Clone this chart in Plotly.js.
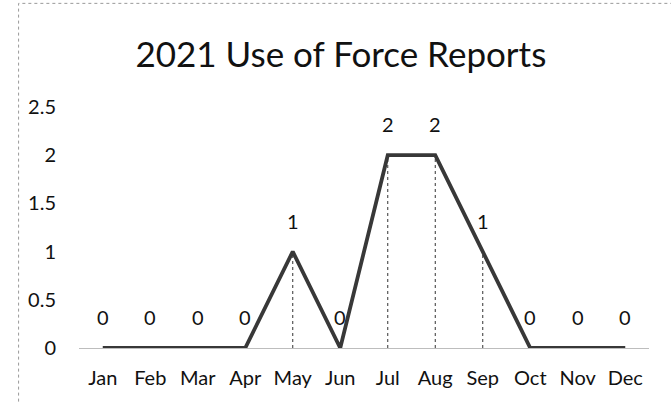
<!DOCTYPE html>
<html>
<head>
<meta charset="utf-8">
<script src="https://cdn.plot.ly/plotly-3.0.1.min.js"></script>
<style>html,body{margin:0;padding:0;background:#fff;}#chart{width:671px;height:404px;}</style>
</head>
<body>
<div id="chart"></div>
<script>
const months = ["Jan","Feb","Mar","Apr","May","Jun","Jul","Aug","Sep","Oct","Nov","Dec"];
const reports = [0,0,0,0,1,0,2,2,1,0,0,0];
const yTicks = [0,0.5,1,1.5,2,2.5];
const yTickText = ["0","0.5","1","1.5","2","2.5"];

const FONT = "Lato, 'Open Sans', sans-serif";

// drop lines from each non-zero point to the axis
const dropX = [], dropY = [];
months.forEach((m, i) => {
  if (reports[i] > 0) { dropX.push(m, m, null); dropY.push(0, reports[i], null); }
});

const traces = [
  {x: months, y: reports, type: 'scatter', mode: 'lines',
   line: {color: '#383838', width: 3.8}, showlegend: false},
  {x: dropX, y: dropY, type: 'scatter', mode: 'lines',
   line: {color: '#333', width: 1, dash: 'dot'}, hoverinfo: 'skip', showlegend: false}
];

const annotations = months.map((m, i) => ({
  x: m, y: reports[i], xref: 'x', yref: 'y', text: String(reports[i]),
  showarrow: false, yshift: 31, font: {family: FONT, size: 20, color: '#111'}
}));

const layout = {
  width: 671, height: 404,
  margin: {l: 79, r: 22, t: 107, b: 56},
  paper_bgcolor: '#fff', plot_bgcolor: '#fff',
  title: {text: '2021 Use of Force Reports', x: 0.508, xanchor: 'center', y: 0.864, yanchor: 'middle',
          font: {family: FONT, size: 35, color: '#111'}},
  xaxis: {type: 'category', categoryorder: 'array', categoryarray: months,
          range: [-0.5, 11.5], showgrid: false, zeroline: false,
          showline: true, linecolor: '#bdbdbd', linewidth: 1, ticks: '',
          ticklabelstandoff: 12, tickfont: {family: FONT, size: 20, color: '#111'}, fixedrange: true},
  yaxis: {range: [0, 2.5], tickvals: yTicks, ticktext: yTickText, showgrid: false, zeroline: false,
          showline: false, ticks: '', ticklabelstandoff: 22,
          tickfont: {family: FONT, size: 20, color: '#111'}, fixedrange: true},
  annotations: annotations,
  shapes: [{type: 'rect', xref: 'paper', yref: 'paper', x0: -0.106, x1: 1.05, y0: -0.3, y1: 1.43,
            line: {color: '#999', width: 1, dash: 'dot'}, layer: 'below'}]
};

Plotly.newPlot('chart', traces, layout, {displayModeBar: false, staticPlot: true});
</script>
</body>
</html>
